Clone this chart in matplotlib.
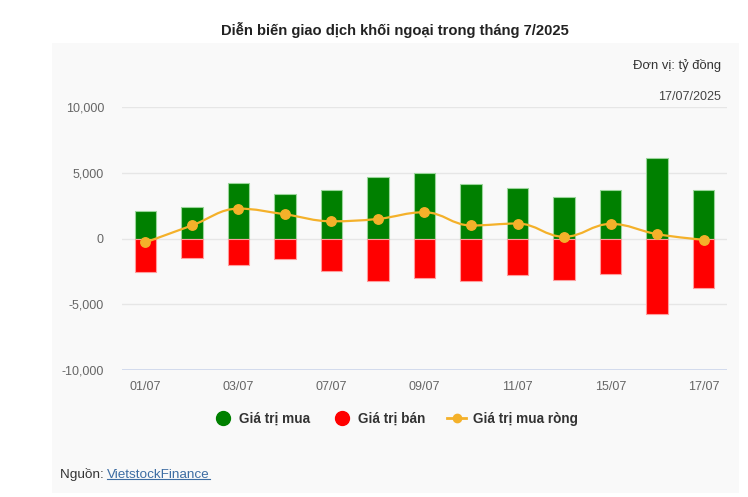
import matplotlib.pyplot as plt
import numpy as np
from matplotlib.lines import Line2D
from matplotlib.patches import PathPatch, Rectangle
from matplotlib.path import Path

plt.rcParams["font.family"] = ["Liberation Sans", "DejaVu Sans"]

# Data (tỷ đồng) ########################################

dates = ["01/07", "02/07", "03/07", "04/07", "07/07", "08/07", "09/07",
         "10/07", "11/07", "14/07", "15/07", "16/07", "17/07"]
buy_values = [2070, 2420, 4190, 3360, 3710, 4650, 4970,
              4120, 3860, 3180, 3710, 6090, 3710]
sell_values = [-2530, -1520, -2020, -1590, -2450, -3210, -3030,
               -3210, -2780, -3130, -2680, -5760, -3790]
net_values = [-300, 990, 2270, 1840, 1310, 1490, 2000,
              990, 1140, 130, 1110, 330, -100]
y_ticks = [-10000, -5000, 0, 5000, 10000]

GREEN = "#008000"
RED = "#ff0000"
ORANGE = "#f4b12a"


def spline_path(xs, ys, smoothing=1.5):
    """Highcharts-style spline through the points, as a bezier Path."""
    n = len(xs)
    denom = smoothing + 1
    left = [(xs[i], ys[i]) for i in range(n)]
    right = [(xs[i], ys[i]) for i in range(n)]
    for i in range(1, n - 1):
        lx = (smoothing * xs[i] + xs[i - 1]) / denom
        ly = (smoothing * ys[i] + ys[i - 1]) / denom
        rx = (smoothing * xs[i] + xs[i + 1]) / denom
        ry = (smoothing * ys[i] + ys[i + 1]) / denom
        corr = (ry - ly) * (rx - xs[i]) / (rx - lx) + ys[i] - ry
        ly += corr
        ry += corr
        # keep the curve from overshooting the neighbours
        if ly > max(ys[i - 1], ys[i]):
            ly = max(ys[i - 1], ys[i])
            ry = 2 * ys[i] - ly
        elif ly < min(ys[i - 1], ys[i]):
            ly = min(ys[i - 1], ys[i])
            ry = 2 * ys[i] - ly
        if ry > max(ys[i + 1], ys[i]):
            ry = max(ys[i + 1], ys[i])
            ly = 2 * ys[i] - ry
        elif ry < min(ys[i + 1], ys[i]):
            ry = min(ys[i + 1], ys[i])
            ly = 2 * ys[i] - ry
        left[i] = (lx, ly)
        right[i] = (rx, ry)
    verts = [(xs[0], ys[0])]
    codes = [Path.MOVETO]
    for i in range(1, n):
        verts += [right[i - 1], left[i], (xs[i], ys[i])]
        codes += [Path.CURVE4] * 3
    return Path(verts, codes)


fig = plt.figure(figsize=(7.48, 4.97), dpi=100)
fig.patch.set_facecolor("white")

# light grey panel behind everything
fig.patches.append(Rectangle((0.0695, 0.008), 0.9184, 0.9054,
                             transform=fig.transFigure,
                             facecolor="#f9f9f9", edgecolor="none",
                             zorder=-5))

ax = fig.add_axes([0.1631, 0.2555, 0.8088, 0.5292])
ax.set_facecolor("none")

x = np.arange(len(dates))
width = 0.46
ax.bar(x, buy_values, width, color=GREEN, edgecolor="#9ad59a",
       linewidth=0.8, zorder=3)
ax.bar(x, sell_values, width, color=RED, edgecolor="#ff9c9c",
       linewidth=0.8, zorder=3)

ax.add_patch(PathPatch(spline_path(x.astype(float), net_values),
                       facecolor="none", edgecolor=ORANGE,
                       linewidth=1.6, zorder=4))
ax.plot(x, net_values, "o", color=ORANGE, markersize=6.8, zorder=5)

ax.set_xlim(-0.5, len(dates) - 0.5)
ax.set_ylim(-10000, 10000)
ax.set_yticks(y_ticks)
ax.set_yticklabels([f"{v:,}" for v in y_ticks])
ax.set_xticks(x[::2])
ax.set_xticklabels(dates[::2])
ax.tick_params(axis="both", length=0, labelsize=9, labelcolor="#666666")
ax.tick_params(axis="y", pad=13)
ax.tick_params(axis="x", pad=8)

for v in y_ticks[1:]:
    ax.axhline(v, color="#e6e6e6", linewidth=1, zorder=1)
ax.axhline(-10000, color="#ccd6eb", linewidth=1.2, zorder=1)
for side in ax.spines.values():
    side.set_visible(False)

# Texts ##################################

fig.text(0.5285, 0.9396, "Diễn biến giao dịch khối ngoại trong tháng 7/2025",
         ha="center", va="center", fontsize=10.6, fontweight="bold",
         color="#222222")
fig.text(0.964, 0.869, "Đơn vị: tỷ đồng", ha="right", va="center",
         fontsize=9.4, color="#333333")
fig.text(0.964, 0.805, "17/07/2025", ha="right", va="center",
         fontsize=9, color="#444444")

handles = [
    Line2D([], [], linestyle="none", marker="o", markersize=10,
           color=GREEN),
    Line2D([], [], linestyle="none", marker="o", markersize=10, color=RED),
    Line2D([], [], color=ORANGE, linewidth=2, marker="o", markersize=6),
]
fig.legend(handles, ["Giá trị mua", "Giá trị bán", "Giá trị mua ròng"],
           loc="center", bbox_to_anchor=(0.529, 0.157), ncol=3,
           frameon=False, handlelength=1.4, handletextpad=0.5,
           columnspacing=1.6, prop={"size": 9.8, "weight": "bold"},
           labelcolor="#333333")

src = fig.text(0.080, 0.046, "Nguồn: ", ha="left", va="center",
               fontsize=9.7, color="#333333")
link = ax.annotate("VietstockFinance", xy=(1, 0), xycoords=src,
                   va="bottom", ha="left", fontsize=9.7, color="#3d6da3",
                   annotation_clip=False)

# underline the link
fig.canvas.draw()
bb = link.get_window_extent().transformed(fig.transFigure.inverted())
fig.add_artist(Line2D([bb.x0, bb.x1], [bb.y0 + 0.004, bb.y0 + 0.004],
                      transform=fig.transFigure, color="#3d6da3",
                      linewidth=0.8))

fig.savefig("out.png", dpi=100)
